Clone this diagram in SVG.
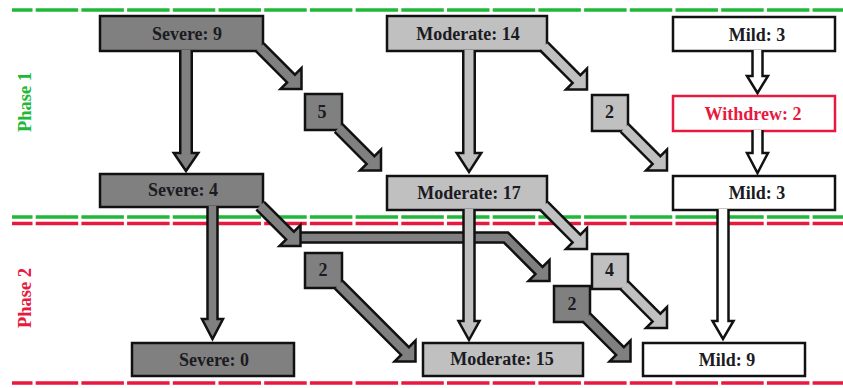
<svg xmlns="http://www.w3.org/2000/svg" width="843" height="388" viewBox="0 0 843 388">
<style>
.bg{fill:#ffffff}
.dash{fill:none;stroke-width:3.5;stroke-dasharray:42.5 3.2;stroke-dashoffset:22}
.g{stroke:#22b837}
.r{stroke:#e8183f}
.box{stroke:#111111;stroke-width:2.5}
.dark{fill:#808080}
.light{fill:#c0c0c0}
.white{fill:#ffffff}
.wd{fill:#ffffff;stroke:#e8183f;stroke-width:2.5}
.t{font-family:"Liberation Serif","Times New Roman",serif;font-weight:bold;font-size:18px;fill:#1b1b22;text-anchor:middle}
.tr{fill:#e8183f}
.ph{font-family:"Liberation Serif","Times New Roman",serif;font-weight:bold;font-size:18.5px;text-anchor:middle}
.arr{stroke:#111111;stroke-width:2.5;stroke-linejoin:miter}
</style>
<rect class="bg" x="0" y="0" width="843" height="388"/>
<g id="phase-lines">
<line class="dash g" x1="12" y1="10" x2="843" y2="10"/>
<line class="dash g" x1="12" y1="217" x2="843" y2="217"/>
<line class="dash r" x1="12" y1="223.5" x2="843" y2="223.5"/>
<line class="dash r" x1="12" y1="383" x2="843" y2="383"/>
<text class="ph" fill="#22b837" transform="translate(31,102) rotate(-90)">Phase 1</text>
<text class="ph" fill="#e8183f" transform="translate(31,298) rotate(-90)">Phase 2</text>
</g>
<g id="severe9"><rect class="box dark" x="100" y="16" width="163" height="35"/><text class="t" x="187" y="39.5">Severe: 9</text></g>
<g id="moderate14"><rect class="box light" x="387" y="16" width="160" height="35"/><text class="t" x="468" y="39.5">Moderate: 14</text></g>
<g id="mild3a"><rect class="box white" x="673" y="17" width="162" height="34"/><text class="t" x="757" y="40.5">Mild: 3</text></g>
<g id="withdrew2"><rect class="wd" x="673" y="96" width="162" height="35"/><text class="t tr" x="753" y="120">Withdrew: 2</text></g>
<g id="mild3b"><rect class="box white" x="673" y="176" width="162" height="34"/><text class="t" x="757" y="199">Mild: 3</text></g>
<g id="severe4"><rect class="box dark" x="100" y="174" width="163" height="33"/><text class="t" x="183" y="196">Severe: 4</text></g>
<g id="moderate17"><rect class="box light" x="387" y="176" width="160" height="34"/><text class="t" x="469" y="199">Moderate: 17</text></g>
<g id="severe0"><rect class="box dark" x="132" y="343" width="162" height="33"/><text class="t" x="214" y="365.5">Severe: 0</text></g>
<g id="moderate15"><rect class="box light" x="423" y="343" width="160" height="33"/><text class="t" x="502" y="365">Moderate: 15</text></g>
<g id="mild9"><rect class="box white" x="643" y="343" width="162" height="33"/><text class="t" x="727" y="366">Mild: 9</text></g>
<g id="n5"><rect class="box dark" x="305" y="94" width="37" height="36"/><text class="t" x="322" y="117.5">5</text></g>
<g id="n2a"><rect class="box light" x="592" y="95" width="36" height="36"/><text class="t" x="609.5" y="117.5">2</text></g>
<g id="n2b"><rect class="box dark" x="305" y="253" width="37" height="35"/><text class="t" x="323" y="276">2</text></g>
<g id="n4"><rect class="box light" x="592" y="254" width="36" height="35"/><text class="t" x="609.5" y="276">4</text></g>
<g id="n2c"><rect class="box dark" x="554" y="286" width="36" height="36"/><text class="t" x="572" y="309.5">2</text></g>
<g id="connectors">
<path class="arr dark" d="M301,232.5 H508.07 L542.54,266.96 L549.5,260 V281 H528.5 L535.46,274.04 L503.93,242.5 H301"/>
<path class="arr dark" d="M180.25,50 V153 H173.75 L186,171 L198.25,153 H191.75 V50"/>
<path class="arr light" d="M463.25,50 V153 H456.75 L469,172 L481.25,153 H474.75 V50"/>
<path class="arr white" d="M752.5,50 V76 H747 L757.5,93 L768,76 H762.5 V50"/>
<path class="arr white" d="M752.5,130 V153 H747 L757.5,173 L768,153 H762.5 V130"/>
<path class="arr dark" d="M207.5,206 V319 H202 L212.5,339 L223,319 H217.5 V206"/>
<path class="arr light" d="M463.5,209 V321 H458.5 L469,340 L479.5,321 H474.5 V209"/>
<path class="arr white" d="M717.5,209 V321 H712.5 L723,339 L733.5,321 H728.5 V209"/>
<path class="arr dark" transform="translate(301.5,89) rotate(45)" d="M-59,-5.5 H-14.85 V-14.85 L0,0 L-14.85,14.85 V5.5 H-59"/>
<path class="arr dark" transform="translate(381,170.5) rotate(45)" d="M-60,-5.5 H-14.85 V-14.85 L0,0 L-14.85,14.85 V5.5 H-60"/>
<path class="arr light" transform="translate(587,89.5) rotate(45)" d="M-61,-5.5 H-14.85 V-14.85 L0,0 L-14.85,14.85 V5.5 H-61"/>
<path class="arr light" transform="translate(667,170.5) rotate(45)" d="M-60,-5.5 H-14.85 V-14.85 L0,0 L-14.85,14.85 V5.5 H-60"/>
<path class="arr dark" transform="translate(300.5,246) rotate(45)" d="M-57,-5.5 H-14.85 V-14.85 L0,0 L-14.85,14.85 V5.5 H-57"/>
<path class="arr dark" transform="translate(415.5,361.5) rotate(45)" d="M-108.5,-5.5 H-14.85 V-14.85 L0,0 L-14.85,14.85 V5.5 H-108.5"/>
<path class="arr light" transform="translate(587,249) rotate(45)" d="M-61,-5.5 H-14.85 V-14.85 L0,0 L-14.85,14.85 V5.5 H-61"/>
<path class="arr light" transform="translate(667,328) rotate(45)" d="M-60,-5.5 H-14.85 V-14.85 L0,0 L-14.85,14.85 V5.5 H-60"/>
<path class="arr dark" transform="translate(630.5,361.5) rotate(45)" d="M-62,-5.5 H-14.85 V-14.85 L0,0 L-14.85,14.85 V5.5 H-62"/>
</g>
</svg>
